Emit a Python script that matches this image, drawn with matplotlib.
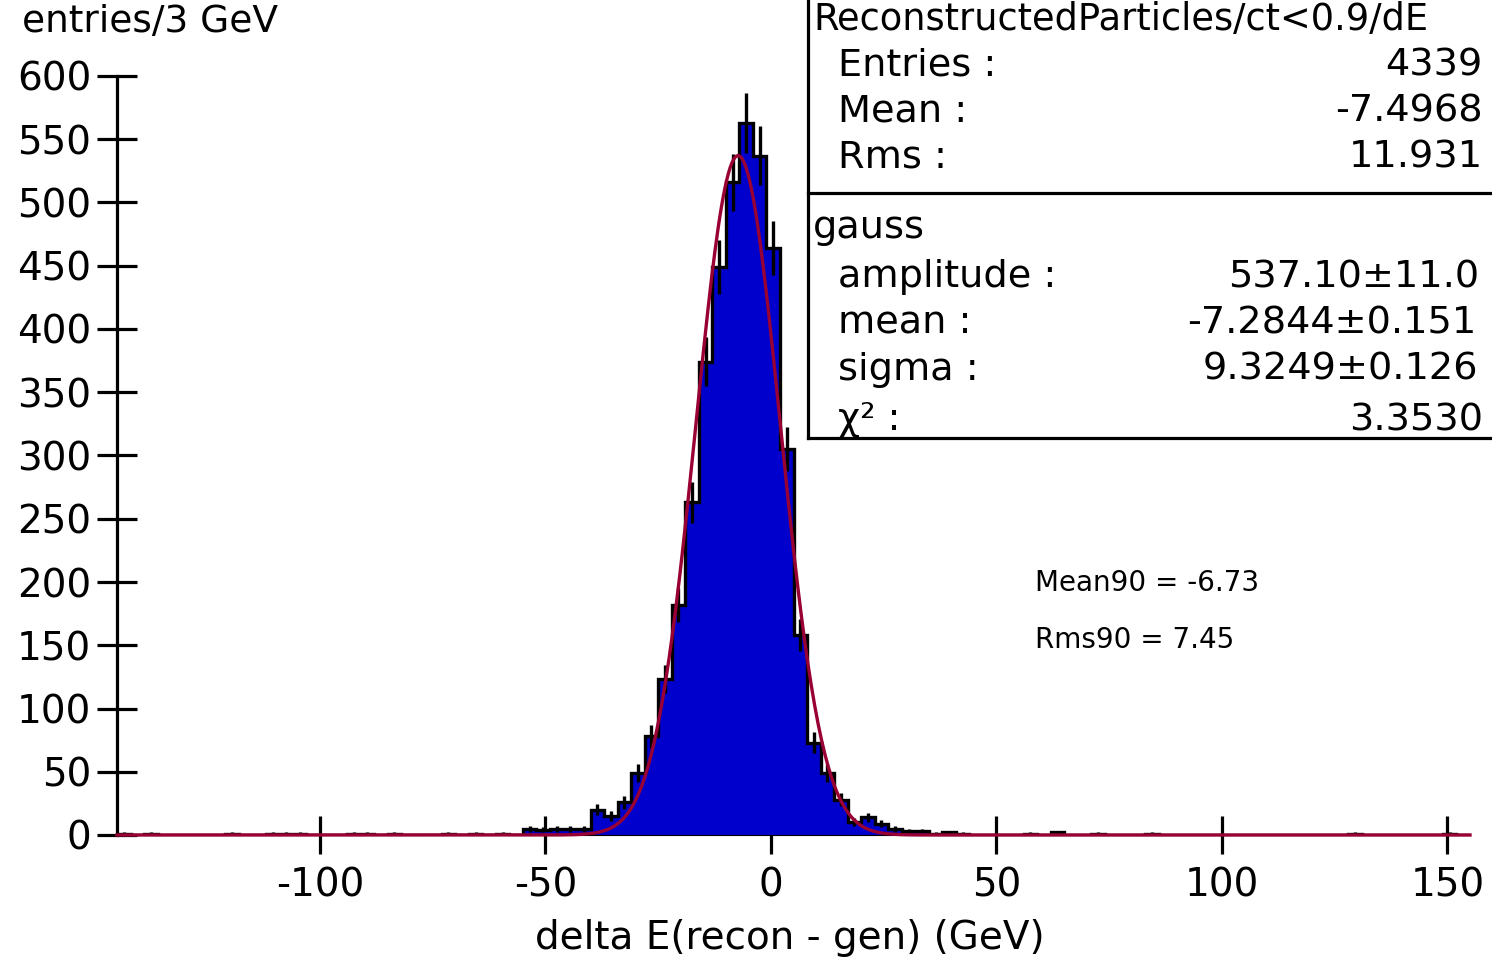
import numpy as np
import matplotlib
matplotlib.use('Agg')
from matplotlib import pyplot as plt
from matplotlib.lines import Line2D

plt.rcParams['font.family'] = ['DejaVu Sans']
plt.rcParams['axes.unicode_minus'] = False

# histogram: 3 GeV bins from -145 to 155
binLow = -145
binWidth = 3
counts = [
    1, 0, 1, 0, 0, 0, 0, 0, 1, 0,
    0, 1, 1, 1, 0, 0, 0, 1, 1, 0,
    1, 0, 0, 0, 1, 0, 1, 0, 1, 0,
    5, 4, 5, 5, 5, 20, 15, 26, 49, 78,
    123, 182, 263, 374, 449, 516, 563, 537, 464, 305,
    158, 73, 49, 28, 10, 14, 9, 5, 3, 3,
    1, 2, 1, 0, 0, 0, 0, 1, 0, 2,
    0, 0, 1, 0, 0, 0, 1, 0, 0, 0,
    0, 0, 0, 0, 0, 0, 0, 0, 0, 0,
    0, 1, 0, 0, 0, 0, 0, 0, 1, 0,
]

# fit result shown in the stats box
gaussAmplitude = 537.10
gaussMean = -7.2844
gaussSigma = 9.3249

statsTitle = 'ReconstructedParticles/ct<0.9/dE'
statsLabels = ['Entries :', 'Mean :', 'Rms :']
statsValues = ['4339', '-7.4968', '11.931']
fitLabels = ['amplitude :', 'mean :', 'sigma :', 'χ² :']
fitValues = ['537.10±11.0', '-7.2844±0.151', '9.3249±0.126', '3.3530']
extraText = ['Mean90 = -6.73', 'Rms90 = 7.45']

xTicks = [-100, -50, 0, 50, 100, 150]
yTicks = list(range(0, 601, 50))

counts = np.array(counts, dtype=float)
edges = binLow + binWidth * np.arange(len(counts) + 1)
centers = 0.5 * (edges[:-1] + edges[1:])

W, H = 1492, 960
fig = plt.figure(figsize=(W / 100, H / 100), dpi=100)
ax = fig.add_axes([117 / W, 125 / H, 1353 / W, 759 / H])

ax.stairs(counts, edges, fill=True, color='#0000cc', zorder=2)
ax.stairs(counts, edges, color='black', lw=2.4, baseline=None, zorder=3)
nz = counts > 0
ax.errorbar(centers[nz], counts[nz], yerr=np.sqrt(counts[nz]), fmt='none',
            ecolor='black', elinewidth=2.4, capsize=0, zorder=3)

xx = np.linspace(edges[0], edges[-1], 800)
ax.plot(xx, gaussAmplitude * np.exp(-0.5 * ((xx - gaussMean) / gaussSigma) ** 2),
        color='#990033', lw=2.4, zorder=4, clip_on=False)

ax.set_xlim(edges[0], edges[-1])
ax.set_ylim(0, 600)
for s in ['top', 'right']:
    ax.spines[s].set_visible(False)
ax.spines['left'].set_linewidth(2.3)
ax.spines['bottom'].set_linewidth(0.8)
ax.set_xticks(xTicks)
ax.set_yticks(yTicks)
ax.tick_params(axis='both', direction='inout', width=2.3, labelsize=28)
ax.tick_params(axis='y', length=29, pad=4)
ax.tick_params(axis='x', length=27, pad=9)
ax.patch.set_visible(False)

fig.text(22 / W, 1 - 22 / H, 'entries/3 GeV', fontsize=27, va='center', ha='left')
fig.text(790 / W, 1 - 938 / H, 'delta E(recon - gen) (GeV)', fontsize=28,
         va='center', ha='center')

# stats box
bx = 808 / W
fig.add_artist(Line2D([bx, bx], [1, 1 - 438 / H], color='black', lw=2.3))
fig.add_artist(Line2D([bx, 1], [1 - 193 / H, 1 - 193 / H], color='black', lw=2.3))
fig.add_artist(Line2D([bx, 1], [1 - 438 / H, 1 - 438 / H], color='black', lw=2.3))

boxFont = 27.5
fig.text(813 / W, 1 - 30 / H, statsTitle, fontsize=26.5, va='baseline', ha='left')
rowsY = [76, 122, 168]
for lab, val, y in zip(statsLabels, statsValues, rowsY):
    fig.text(838 / W, 1 - y / H, lab, fontsize=boxFont, va='baseline', ha='left')
    fig.text(1483 / W, 1 - y / H, val, fontsize=boxFont, va='baseline', ha='right')
fig.text(813 / W, 1 - 238 / H, 'gauss', fontsize=boxFont, va='baseline', ha='left')
fitY = [287, 333, 380, 430]
fitRight = [1479, 1476, 1478, 1483]
for lab, val, y, r in zip(fitLabels, fitValues, fitY, fitRight):
    fig.text(838 / W, 1 - y / H, lab, fontsize=boxFont, va='baseline', ha='left')
    fig.text(r / W, 1 - y / H, val, fontsize=boxFont, va='baseline', ha='right')

for t, y in zip(extraText, [583, 640]):
    fig.text(1035 / W, 1 - y / H, t, fontsize=20, va='center', ha='left')

fig.savefig('out.png', dpi=100)
